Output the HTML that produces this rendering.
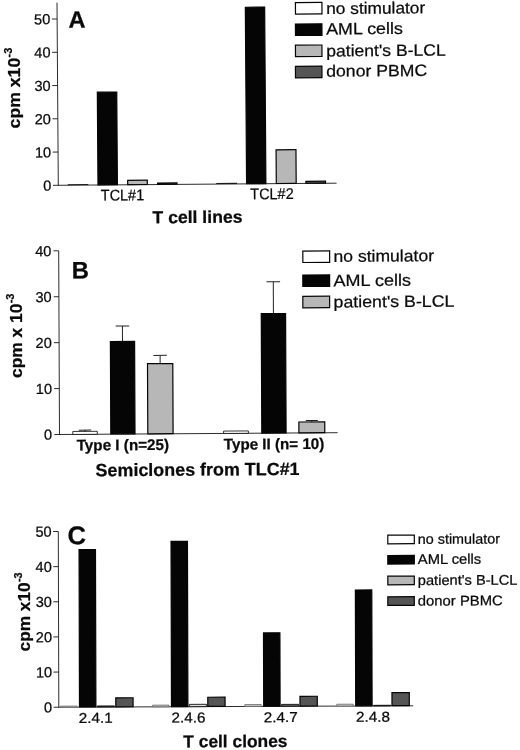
<!DOCTYPE html>
<html lang="en">
<head>
<meta charset="utf-8">
<title>T cell proliferation figure</title>
<style>
html,body{margin:0;padding:0;background:#fff;}
svg{display:block;}
svg text{font-family:'Liberation Sans', Arial, sans-serif;fill:#0a0a0a;stroke:#0a0a0a;stroke-width:0.25px;}
</style>
</head>
<body>
<svg width="520" height="750" viewBox="0 0 520 750">
<rect x="0" y="0" width="520" height="750" fill="#ffffff"/>
<g id="panelA" transform="matrix(1 -0.0076 0.0071 1 -1.3156 0.4431)">
<line x1="58.30" y1="2.60" x2="58.30" y2="185.75" stroke="#222222" stroke-width="0.95"/>
<line x1="53.00" y1="185.30" x2="336.60" y2="185.30" stroke="#222222" stroke-width="0.95"/>
<text x="51.4" y="190.55" font-size="14.6" font-weight="400" text-anchor="end" textLength="8.1" lengthAdjust="spacingAndGlyphs">0</text>
<line x1="53.00" y1="152.04" x2="58.30" y2="152.04" stroke="#222222" stroke-width="0.95"/>
<text x="51.4" y="157.29" font-size="14.6" font-weight="400" text-anchor="end" textLength="16.2" lengthAdjust="spacingAndGlyphs">10</text>
<line x1="53.00" y1="118.78" x2="58.30" y2="118.78" stroke="#222222" stroke-width="0.95"/>
<text x="51.4" y="124.03" font-size="14.6" font-weight="400" text-anchor="end" textLength="16.2" lengthAdjust="spacingAndGlyphs">20</text>
<line x1="53.00" y1="85.52" x2="58.30" y2="85.52" stroke="#222222" stroke-width="0.95"/>
<text x="51.4" y="90.77" font-size="14.6" font-weight="400" text-anchor="end" textLength="16.2" lengthAdjust="spacingAndGlyphs">30</text>
<line x1="53.00" y1="52.26" x2="58.30" y2="52.26" stroke="#222222" stroke-width="0.95"/>
<text x="51.4" y="57.51" font-size="14.6" font-weight="400" text-anchor="end" textLength="16.2" lengthAdjust="spacingAndGlyphs">40</text>
<line x1="53.00" y1="19.00" x2="58.30" y2="19.00" stroke="#222222" stroke-width="0.95"/>
<text x="51.4" y="24.25" font-size="14.6" font-weight="400" text-anchor="end" textLength="16.2" lengthAdjust="spacingAndGlyphs">50</text>
<text x="69.72" y="27.78" font-size="23.6" font-weight="700" text-anchor="start">A</text>
<line x1="67.70" y1="184.75" x2="88.30" y2="184.75" stroke="#1a1a1a" stroke-width="1.1"/>
<rect x="98.00" y="92.48" width="19.40" height="92.67" fill="#050505" stroke="#050505" stroke-width="1.2"/>
<rect x="127.70" y="180.90" width="19.60" height="4.25" fill="#b7b7b7" stroke="#050505" stroke-width="1.2"/>
<rect x="157.60" y="183.83" width="19.40" height="1.32" fill="#555555" stroke="#050505" stroke-width="1.2"/>
<line x1="216.20" y1="184.75" x2="237.10" y2="184.75" stroke="#1a1a1a" stroke-width="1.1"/>
<rect x="246.60" y="8.70" width="19.30" height="176.45" fill="#050505" stroke="#050505" stroke-width="1.2"/>
<rect x="276.30" y="151.53" width="19.90" height="33.62" fill="#b7b7b7" stroke="#050505" stroke-width="1.2"/>
<rect x="305.90" y="183.26" width="19.60" height="1.89" fill="#555555" stroke="#050505" stroke-width="1.2"/>
<text x="100.69" y="200.92" font-size="15.5" font-weight="400" text-anchor="start" textLength="43.4" lengthAdjust="spacingAndGlyphs">TCL#1</text>
<text x="250.2" y="200.76" font-size="15.5" font-weight="400" text-anchor="start" textLength="43.4" lengthAdjust="spacingAndGlyphs">TCL#2</text>
<text x="152.23" y="224.02" font-size="17.3" font-weight="700" text-anchor="start" textLength="90" lengthAdjust="spacingAndGlyphs">T cell lines</text>
<rect x="296.70" y="4.40" width="26.50" height="11.50" fill="#fff" stroke="#050505" stroke-width="1.2"/>
<text x="327.42" y="16.14" font-size="16.4" font-weight="400" text-anchor="start" textLength="99.0" lengthAdjust="spacingAndGlyphs">no stimulator</text>
<rect x="296.55" y="25.80" width="26.50" height="11.50" fill="#050505" stroke="#050505" stroke-width="1.2"/>
<text x="327.27" y="36.54" font-size="16.4" font-weight="400" text-anchor="start" textLength="76.6" lengthAdjust="spacingAndGlyphs">AML cells</text>
<rect x="296.40" y="47.00" width="26.50" height="11.50" fill="#b7b7b7" stroke="#050505" stroke-width="1.2"/>
<text x="327.11" y="58.54" font-size="16.4" font-weight="400" text-anchor="start" textLength="119.6" lengthAdjust="spacingAndGlyphs">patient's B-LCL</text>
<rect x="296.25" y="68.10" width="26.50" height="11.50" fill="#555555" stroke="#050505" stroke-width="1.2"/>
<text x="326.97" y="78.74" font-size="16.4" font-weight="400" text-anchor="start" textLength="101.0" lengthAdjust="spacingAndGlyphs">donor PBMC</text>
</g>
<g transform="translate(19.6,128.4) rotate(-90)">
<text x="0" y="0" font-size="16.8" font-weight="700" text-anchor="start" textLength="70.6" lengthAdjust="spacingAndGlyphs">cpm x10</text>
<text x="70.89999999999999" y="-8.0" font-size="11.8" font-weight="700" text-anchor="start" textLength="9.8" lengthAdjust="spacingAndGlyphs">-3</text>
</g>
<g id="panelB" transform="matrix(1 -0.0065 0.0044 1 -1.9118 0.3867)">
<line x1="59.50" y1="250.80" x2="59.50" y2="434.95" stroke="#222222" stroke-width="0.95"/>
<line x1="54.30" y1="434.50" x2="337.60" y2="434.50" stroke="#222222" stroke-width="0.95"/>
<text x="52.2" y="439.75" font-size="14.6" font-weight="400" text-anchor="end" textLength="8.1" lengthAdjust="spacingAndGlyphs">0</text>
<line x1="54.30" y1="388.57" x2="59.50" y2="388.57" stroke="#222222" stroke-width="0.95"/>
<text x="52.2" y="393.82" font-size="14.6" font-weight="400" text-anchor="end" textLength="16.2" lengthAdjust="spacingAndGlyphs">10</text>
<line x1="54.30" y1="342.65" x2="59.50" y2="342.65" stroke="#222222" stroke-width="0.95"/>
<text x="52.2" y="347.9" font-size="14.6" font-weight="400" text-anchor="end" textLength="16.2" lengthAdjust="spacingAndGlyphs">20</text>
<line x1="54.30" y1="296.73" x2="59.50" y2="296.73" stroke="#222222" stroke-width="0.95"/>
<text x="52.2" y="301.98" font-size="14.6" font-weight="400" text-anchor="end" textLength="16.2" lengthAdjust="spacingAndGlyphs">30</text>
<line x1="54.30" y1="250.80" x2="59.50" y2="250.80" stroke="#222222" stroke-width="0.95"/>
<text x="52.2" y="256.05" font-size="14.6" font-weight="400" text-anchor="end" textLength="16.2" lengthAdjust="spacingAndGlyphs">40</text>
<text x="72.49" y="278.58" font-size="23.8" font-weight="700" text-anchor="start">B</text>
<line x1="85.05" y1="430.27" x2="85.05" y2="432.17" stroke="#222222" stroke-width="1.0"/>
<line x1="78.85" y1="430.27" x2="91.25" y2="430.27" stroke="#222222" stroke-width="1.0"/>
<rect x="72.80" y="431.57" width="24.50" height="2.98" fill="#fff" stroke="#050505" stroke-width="0.8"/>
<line x1="122.90" y1="326.41" x2="122.90" y2="342.21" stroke="#222222" stroke-width="1.0"/>
<line x1="116.10" y1="326.41" x2="129.70" y2="326.41" stroke="#222222" stroke-width="1.0"/>
<rect x="110.80" y="341.81" width="24.20" height="92.54" fill="#050505" stroke="#050505" stroke-width="1.2"/>
<line x1="160.45" y1="356.06" x2="160.45" y2="364.66" stroke="#222222" stroke-width="1.0"/>
<line x1="153.75" y1="356.06" x2="167.15" y2="356.06" stroke="#222222" stroke-width="1.0"/>
<rect x="147.80" y="364.26" width="25.30" height="70.09" fill="#b7b7b7" stroke="#050505" stroke-width="1.2"/>
<rect x="223.60" y="432.15" width="24.80" height="2.40" fill="#fff" stroke="#050505" stroke-width="0.8"/>
<line x1="273.95" y1="283.09" x2="273.95" y2="315.39" stroke="#222222" stroke-width="1.0"/>
<line x1="267.15" y1="283.09" x2="280.75" y2="283.09" stroke="#222222" stroke-width="1.0"/>
<rect x="261.80" y="314.99" width="24.30" height="119.36" fill="#050505" stroke="#050505" stroke-width="1.2"/>
<line x1="311.85" y1="422.14" x2="311.85" y2="423.94" stroke="#222222" stroke-width="1.0"/>
<line x1="305.85" y1="422.14" x2="317.85" y2="422.14" stroke="#222222" stroke-width="1.0"/>
<rect x="298.90" y="423.54" width="25.90" height="10.81" fill="#b7b7b7" stroke="#050505" stroke-width="1.2"/>
<text x="76.63" y="450.61" font-size="15.4" font-weight="700" text-anchor="start" textLength="92.4" lengthAdjust="spacingAndGlyphs">Type I (n=25)</text>
<text x="223.73" y="450.67" font-size="15.4" font-weight="700" text-anchor="start" textLength="100.6" lengthAdjust="spacingAndGlyphs">Type II (n= 10)</text>
<text x="95.42" y="476.53" font-size="17.8" font-weight="700" text-anchor="start" textLength="204" lengthAdjust="spacingAndGlyphs">Semiclones from TLC#1</text>
<rect x="303.61" y="252.68" width="26.80" height="11.40" fill="#fff" stroke="#050505" stroke-width="1.2"/>
<text x="334.36" y="263.68" font-size="16.4" font-weight="400" text-anchor="start" textLength="100.4" lengthAdjust="spacingAndGlyphs">no stimulator</text>
<rect x="303.50" y="276.68" width="26.80" height="11.40" fill="#050505" stroke="#050505" stroke-width="1.2"/>
<text x="334.25" y="287.98" font-size="16.4" font-weight="400" text-anchor="start" textLength="77.4" lengthAdjust="spacingAndGlyphs">AML cells</text>
<rect x="303.41" y="297.98" width="26.80" height="11.40" fill="#b7b7b7" stroke="#050505" stroke-width="1.2"/>
<text x="334.16" y="309.28" font-size="16.4" font-weight="400" text-anchor="start" textLength="120.8" lengthAdjust="spacingAndGlyphs">patient's B-LCL</text>
</g>
<g transform="translate(21.6,378.0) rotate(-90)">
<text x="0" y="0" font-size="16.0" font-weight="700" text-anchor="start" textLength="74.4" lengthAdjust="spacingAndGlyphs">cpm x 10</text>
<text x="74.7" y="-7.6" font-size="11.6" font-weight="700" text-anchor="start" textLength="9.8" lengthAdjust="spacingAndGlyphs">-3</text>
</g>
<g id="panelC" transform="matrix(1 -0.004 0.0028 1 -1.9802 0.2352)">
<line x1="58.80" y1="531.50" x2="58.80" y2="707.65" stroke="#222222" stroke-width="0.95"/>
<line x1="53.60" y1="707.20" x2="413.20" y2="707.20" stroke="#222222" stroke-width="0.95"/>
<text x="52.2" y="712.45" font-size="14.6" font-weight="400" text-anchor="end" textLength="8.1" lengthAdjust="spacingAndGlyphs">0</text>
<line x1="53.60" y1="672.06" x2="58.80" y2="672.06" stroke="#222222" stroke-width="0.95"/>
<text x="52.2" y="677.31" font-size="14.6" font-weight="400" text-anchor="end" textLength="16.2" lengthAdjust="spacingAndGlyphs">10</text>
<line x1="53.60" y1="636.92" x2="58.80" y2="636.92" stroke="#222222" stroke-width="0.95"/>
<text x="52.2" y="642.17" font-size="14.6" font-weight="400" text-anchor="end" textLength="16.2" lengthAdjust="spacingAndGlyphs">20</text>
<line x1="53.60" y1="601.78" x2="58.80" y2="601.78" stroke="#222222" stroke-width="0.95"/>
<text x="52.2" y="607.03" font-size="14.6" font-weight="400" text-anchor="end" textLength="16.2" lengthAdjust="spacingAndGlyphs">30</text>
<line x1="53.60" y1="566.64" x2="58.80" y2="566.64" stroke="#222222" stroke-width="0.95"/>
<text x="52.2" y="571.89" font-size="14.6" font-weight="400" text-anchor="end" textLength="16.2" lengthAdjust="spacingAndGlyphs">40</text>
<line x1="53.60" y1="531.50" x2="58.80" y2="531.50" stroke="#222222" stroke-width="0.95"/>
<text x="52.2" y="536.75" font-size="14.6" font-weight="400" text-anchor="end" textLength="16.2" lengthAdjust="spacingAndGlyphs">50</text>
<text x="68.06" y="544.24" font-size="25.6" font-weight="700" text-anchor="start">C</text>
<rect x="60.60" y="706.15" width="16.40" height="1.10" fill="#c8c8c8" stroke="#666" stroke-width="0.8"/>
<rect x="79.50" y="549.71" width="16.40" height="157.34" fill="#050505" stroke="#050505" stroke-width="1.2"/>
<rect x="97.35" y="706.10" width="17.10" height="1.10" fill="#333" stroke="#111" stroke-width="0.9"/>
<rect x="115.80" y="698.06" width="17.30" height="8.99" fill="#555555" stroke="#050505" stroke-width="1.2"/>
<text x="78.6" y="723.0" font-size="14.4" font-weight="400" text-anchor="start" textLength="34.0" lengthAdjust="spacingAndGlyphs">2.4.1</text>
<rect x="152.60" y="705.55" width="16.40" height="1.70" fill="#c8c8c8" stroke="#666" stroke-width="0.8"/>
<rect x="171.50" y="541.88" width="16.40" height="165.17" fill="#050505" stroke="#050505" stroke-width="1.2"/>
<rect x="189.35" y="704.90" width="17.10" height="2.30" fill="#ddd" stroke="#111" stroke-width="0.9"/>
<rect x="207.80" y="697.83" width="17.30" height="9.22" fill="#555555" stroke="#050505" stroke-width="1.2"/>
<text x="171.5" y="723.0" font-size="14.4" font-weight="400" text-anchor="start" textLength="34.0" lengthAdjust="spacingAndGlyphs">2.4.6</text>
<rect x="244.80" y="705.35" width="16.40" height="1.90" fill="#c8c8c8" stroke="#666" stroke-width="0.8"/>
<rect x="263.70" y="633.75" width="16.40" height="73.30" fill="#050505" stroke="#050505" stroke-width="1.2"/>
<rect x="281.55" y="705.30" width="17.10" height="1.90" fill="#666" stroke="#111" stroke-width="0.9"/>
<rect x="300.00" y="697.30" width="17.30" height="9.75" fill="#555555" stroke="#050505" stroke-width="1.2"/>
<text x="263.6" y="723.0" font-size="14.4" font-weight="400" text-anchor="start" textLength="34.0" lengthAdjust="spacingAndGlyphs">2.4.7</text>
<rect x="336.80" y="705.35" width="16.40" height="1.90" fill="#c8c8c8" stroke="#666" stroke-width="0.8"/>
<rect x="355.70" y="591.22" width="16.40" height="115.83" fill="#050505" stroke="#050505" stroke-width="1.2"/>
<rect x="373.55" y="706.60" width="17.10" height="0.60" fill="#111" stroke="#111" stroke-width="0.9"/>
<rect x="392.00" y="693.97" width="17.30" height="13.08" fill="#555555" stroke="#050505" stroke-width="1.2"/>
<text x="355.9" y="723.0" font-size="14.4" font-weight="400" text-anchor="start" textLength="34.0" lengthAdjust="spacingAndGlyphs">2.4.8</text>
<text x="183.19" y="747.9" font-size="17.3" font-weight="700" text-anchor="start" textLength="104.2" lengthAdjust="spacingAndGlyphs">T cell clones</text>
<rect x="388.28" y="536.51" width="26.50" height="8.60" fill="#fff" stroke="#050505" stroke-width="1.2"/>
<text x="418.26" y="545.34" font-size="14.0" font-weight="400" text-anchor="start" textLength="82.2" lengthAdjust="spacingAndGlyphs">no stimulator</text>
<rect x="388.23" y="556.81" width="26.50" height="8.60" fill="#050505" stroke="#050505" stroke-width="1.2"/>
<text x="418.2" y="565.44" font-size="14.0" font-weight="400" text-anchor="start" textLength="63.4" lengthAdjust="spacingAndGlyphs">AML cells</text>
<rect x="388.17" y="577.51" width="26.50" height="8.60" fill="#b7b7b7" stroke="#050505" stroke-width="1.2"/>
<text x="418.14" y="586.44" font-size="14.0" font-weight="400" text-anchor="start" textLength="99.6" lengthAdjust="spacingAndGlyphs">patient's B-LCL</text>
<rect x="388.11" y="598.11" width="26.50" height="8.60" fill="#555555" stroke="#050505" stroke-width="1.2"/>
<text x="418.08" y="607.04" font-size="14.0" font-weight="400" text-anchor="start" textLength="85.0" lengthAdjust="spacingAndGlyphs">donor PBMC</text>
</g>
<g transform="translate(29.5,651.4) rotate(-90)">
<text x="0" y="0" font-size="16.0" font-weight="700" text-anchor="start" textLength="69.0" lengthAdjust="spacingAndGlyphs">cpm x10</text>
<text x="69.3" y="-7.8" font-size="11.4" font-weight="700" text-anchor="start" textLength="9.6" lengthAdjust="spacingAndGlyphs">-3</text>
</g>
</svg>
</body>
</html>
